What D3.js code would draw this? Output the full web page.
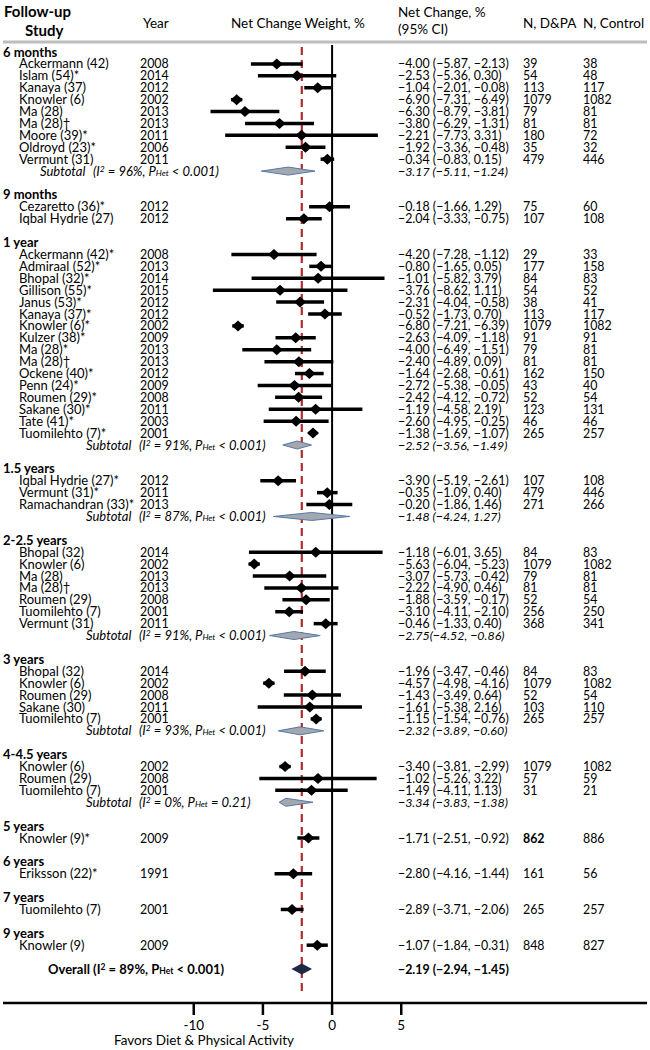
<!DOCTYPE html>
<html><head><meta charset="utf-8">
<script src="https://cdn.jsdelivr.net/npm/d3@7"></script>
<style>
body{margin:0;background:#fff}
svg text{font-family:Lato,"Open Sans",sans-serif;fill:#000;font-size:13px}
svg text.num{font-size:12.4px}
</style>
</head><body>
<svg id="c" width="650" height="1050"></svg>
<script>
const groupLabels = ["6 months","9 months","1 year","1.5 years","2-2.5 years","3 years","4-4.5 years","5 years","6 years","7 years","9 years"];
const studyGroup = [0,0,0,0,0,0,0,0,0, 1,1, 2,2,2,2,2,2,2,2,2,2,2,2,2,2,2,2, 3,3,3, 4,4,4,4,4,4,4, 5,5,5,5,5, 6,6,6, 7, 8, 9, 10];
const studyNames = ["Ackermann (42)","Islam (54)*","Kanaya (37)","Knowler (6)","Ma (28)","Ma (28)\u2020","Moore (39)*","Oldroyd (23)*","Vermunt (31)",
  "Cezaretto (36)*","Iqbal Hydrie (27)",
  "Ackermann (42)*","Admiraal (52)*","Bhopal (32)*","Gillison (55)*","Janus (53)*","Kanaya (37)*","Knowler (6)*","Kulzer (38)*","Ma (28)*","Ma (28)\u2020","Ockene (40)*","Penn (24)*","Roumen (29)*","Sakane (30)*","Tate (41)*","Tuomilehto (7)*",
  "Iqbal Hydrie (27)*","Vermunt (31)*","Ramachandran (33)*",
  "Bhopal (32)","Knowler (6)","Ma (28)","Ma (28)\u2020","Roumen (29)","Tuomilehto (7)","Vermunt (31)",
  "Bhopal (32)","Knowler (6)","Roumen (29)","Sakane (30)","Tuomilehto (7)",
  "Knowler (6)","Roumen (29)","Tuomilehto (7)",
  "Knowler (9)*","Eriksson (22)*","Tuomilehto (7)","Knowler (9)"];
const studyYears = [2008,2014,2012,2002,2013,2013,2011,2006,2011,
  2012,2012,
  2008,2013,2014,2015,2012,2012,2002,2009,2013,2013,2012,2009,2008,2011,2003,2001,
  2012,2011,2013,
  2014,2002,2013,2013,2008,2001,2011,
  2014,2002,2008,2011,2001,
  2002,2008,2001,
  2009,1991,2001,2009];
const est = [-4.00,-2.53,-1.04,-6.90,-6.30,-3.80,-2.21,-1.92,-0.34,
  -0.18,-2.04,
  -4.20,-0.80,-1.01,-3.76,-2.31,-0.52,-6.80,-2.63,-4.00,-2.40,-1.64,-2.72,-2.42,-1.19,-2.60,-1.38,
  -3.90,-0.35,-0.20,
  -1.18,-5.63,-3.07,-2.22,-1.88,-3.10,-0.46,
  -1.96,-4.57,-1.43,-1.61,-1.15,
  -3.40,-1.02,-1.49,
  -1.71,-2.80,-2.89,-1.07];
const lo = [-5.87,-5.36,-2.01,-7.31,-8.79,-6.29,-7.73,-3.36,-0.83,
  -1.66,-3.33,
  -7.28,-1.65,-5.82,-8.62,-4.04,-1.73,-7.21,-4.09,-6.49,-4.89,-2.68,-5.38,-4.12,-4.58,-4.95,-1.69,
  -5.19,-1.09,-1.86,
  -6.01,-6.04,-5.73,-4.90,-3.59,-4.11,-1.33,
  -3.47,-4.98,-3.49,-5.38,-1.54,
  -3.81,-5.26,-4.11,
  -2.51,-4.16,-3.71,-1.84];
const hi = [-2.13,0.30,-0.08,-6.49,-3.81,-1.31,3.31,-0.48,0.15,
  1.29,-0.75,
  -1.12,0.05,3.79,1.11,-0.58,0.70,-6.39,-1.18,-1.51,0.09,-0.61,-0.05,-0.72,2.19,-0.25,-1.07,
  -2.61,0.40,1.46,
  3.65,-5.23,-0.42,0.46,-0.17,-2.10,0.40,
  -0.46,-4.16,0.64,2.16,-0.76,
  -2.99,3.22,1.13,
  -0.92,-1.44,-2.06,-0.31];
const nDPA = [39,54,113,1079,79,81,180,35,479,
  75,107,
  29,177,84,54,38,113,1079,91,79,81,162,43,52,123,46,265,
  107,479,271,
  84,1079,79,81,52,256,368,
  84,1079,52,103,265,
  1079,57,31,
  862,161,265,848];
const nCtrl = [38,48,117,1082,81,81,72,32,446,
  60,108,
  33,158,83,52,41,117,1082,91,81,81,150,40,54,131,46,257,
  108,446,266,
  83,1082,81,81,54,250,341,
  83,1082,54,110,257,
  1082,59,21,
  886,56,257,827];
const boldDPAIndex = [45];
const subGroup = [0,2,3,4,5,6];
const subI2 = ["96%","91%","87%","91%","93%","0%"];
const subP = ["< 0.001","< 0.001","< 0.001","< 0.001","< 0.001","= 0.21"];
const subEst = [-3.17,-2.52,-1.48,-2.75,-2.32,-3.34];
const subLo = [-5.11,-3.56,-4.24,-4.52,-3.89,-3.83];
const subHi = [-1.24,-1.49,1.27,-0.86,-0.60,-1.38];
const subSep = [" "," "," ",""," "," "];
const overallI2 = "89%", overallP = "< 0.001";
const overallEst = -2.19, overallLo = -2.94, overallHi = -1.45;
const xTicks = [-10,-5,0,5];

// layout (not data)
const subLabelX = [40, 86, 86, 86, 86, 86];
const COL = {name:19, year:140, est:398, n1:523, n2:583};

const svg = d3.select("#c");
const f2 = d3.format(".2f");
const ciText = (e,l,h,sep=" ") => `${f2(e)}${sep}(${f2(l)}, ${f2(h)})`;

const rows = [];
let idx = 0;
groupLabels.forEach((g, gi) => {
  rows.push({type:"group", label:g, i:idx++});
  studyGroup.forEach((sg, k) => { if (sg === gi) rows.push({type:"study", k, i:idx++}); });
  const s = subGroup.indexOf(gi);
  if (s >= 0) rows.push({type:"sub", s, i:idx++});
  idx++;
});
rows.push({type:"overall", i:idx});

const y = d3.scaleLinear().domain([0, idx]).range([52, 969]);
const x = d3.scaleLinear().domain([-10, 5]).range([193.75, 401.25]);

// header
const hdr = svg.append("g");
hdr.append("text").attr("x",4).attr("y",17).style("font-weight","bold").style("font-size","15px").text("Follow-up");
hdr.append("text").attr("x",25).attr("y",36).style("font-weight","bold").style("font-size","15px").text("Study");
hdr.append("text").attr("x",143).attr("y",28).style("font-size","13.5px").text("Year");
hdr.append("text").attr("x",231).attr("y",28).style("font-size","13.5px").text("Net Change Weight, %");
hdr.append("text").attr("x",398).attr("y",17).style("font-size","13.5px").text("Net Change, %");
hdr.append("text").attr("x",398).attr("y",34).style("font-size","13.5px").text("(95% CI)");
hdr.append("text").attr("x",523).attr("y",28).style("font-size","13.5px").text("N, D&PA");
hdr.append("text").attr("x",583).attr("y",28).style("font-size","13.5px").text("N, Control");
svg.append("line").attr("x1",3).attr("x2",647).attr("y1",42).attr("y2",42)
  .attr("stroke","#bdbdbd").attr("stroke-width",3);

// reference lines
svg.append("line").attr("x1",x(0)).attr("x2",x(0)).attr("y1",45).attr("y2",1003)
  .attr("stroke","#000").attr("stroke-width",2);
svg.append("line").attr("x1",x(overallEst)).attr("x2",x(overallEst)).attr("y1",47).attr("y2",996)
  .attr("stroke","#b22a2a").attr("stroke-width",2.2).attr("stroke-dasharray","8,5");

const base = i => y(i) + 4.5;

function hetText(sel, i2, p) {
  sel.append("tspan").text("(I");
  sel.append("tspan").attr("dy",-4).style("font-size","8.5px").text("2");
  sel.append("tspan").attr("dy",4).text(` = ${i2}, P`);
  sel.append("tspan").style("font-size","8.5px").text("Het");
  sel.append("tspan").text(` ${p})`);
}

rows.forEach(r => {
  const yy = y(r.i);
  if (r.type === "group") {
    svg.append("text").attr("x",3).attr("y",base(r.i)).style("font-weight","bold").text(r.label);
  } else if (r.type === "study") {
    const k = r.k;
    svg.append("text").attr("x",COL.name).attr("y",base(r.i)).text(studyNames[k]);
    svg.append("text").attr("class","num").attr("x",COL.year).attr("y",base(r.i)).text(studyYears[k]);
    svg.append("text").attr("class","num").attr("x",COL.est).attr("y",base(r.i)).text(ciText(est[k],lo[k],hi[k]));
    svg.append("text").attr("class","num").attr("x",COL.n1).attr("y",base(r.i))
      .style("font-weight", boldDPAIndex.includes(k) ? "bold" : null).text(nDPA[k]);
    svg.append("text").attr("class","num").attr("x",COL.n2).attr("y",base(r.i)).text(nCtrl[k]);
    svg.append("line").attr("x1",x(lo[k])).attr("x2",x(hi[k])).attr("y1",yy).attr("y2",yy)
      .attr("stroke","#000").attr("stroke-width",3.5);
    const cx = x(est[k]);
    svg.append("path").attr("d",`M${cx-6},${yy}L${cx},${yy-5.5}L${cx+6},${yy}L${cx},${yy+5.5}Z`).attr("fill","#000");
  } else if (r.type === "sub") {
    const s = r.s, sx = subLabelX[s];
    svg.append("text").attr("x",sx).attr("y",base(r.i)).style("font-style","italic").text("Subtotal");
    const t = svg.append("text").attr("x",sx+53).attr("y",base(r.i)).style("font-style","italic");
    hetText(t, subI2[s], subP[s]);
    svg.append("text").attr("class","num").attr("x",COL.est).attr("y",base(r.i)).style("font-style","italic")
      .text(ciText(subEst[s],subLo[s],subHi[s],subSep[s]));
    const a = x(subLo[s]), b = x(subHi[s]), c = x(subEst[s]);
    svg.append("path").attr("d",`M${a},${yy}L${c},${yy-4}L${b},${yy}L${c},${yy+4}Z`)
      .attr("fill","#a3a7ae").attr("stroke","#5878a8").attr("stroke-width",1);
  } else {
    const t = svg.append("text").attr("x",48).attr("y",base(r.i)).style("font-weight","bold");
    t.append("tspan").text("Overall ");
    hetText(t, overallI2, overallP);
    svg.append("text").attr("class","num").attr("x",COL.est).attr("y",base(r.i)).style("font-weight","bold")
      .text(ciText(overallEst,overallLo,overallHi));
    const a = x(overallLo), b = x(overallHi), c = x(overallEst);
    svg.append("path").attr("d",`M${a},${yy}L${c},${yy-5.5}L${b},${yy}L${c},${yy+5.5}Z`)
      .attr("fill","#1e2a45");
  }
});

// x axis
const axY = 1003;
svg.append("line").attr("x1",3).attr("x2",647).attr("y1",axY).attr("y2",axY)
  .attr("stroke","#000").attr("stroke-width",2.5);
const tk = svg.append("g").selectAll("g").data(xTicks).join("g");
tk.append("line").attr("x1",d=>x(d)).attr("x2",d=>x(d)).attr("y1",axY).attr("y2",axY+12)
  .attr("stroke","#000").attr("stroke-width",2.5);
tk.append("text").attr("x",d=>x(d)).attr("y",axY+27).attr("text-anchor","middle").style("font-size","13.5px").text(d=>d);
svg.append("text").attr("x",204).attr("y",1045).attr("text-anchor","middle").style("font-size","13.5px").text("Favors Diet & Physical Activity");
</script>
</body></html>
